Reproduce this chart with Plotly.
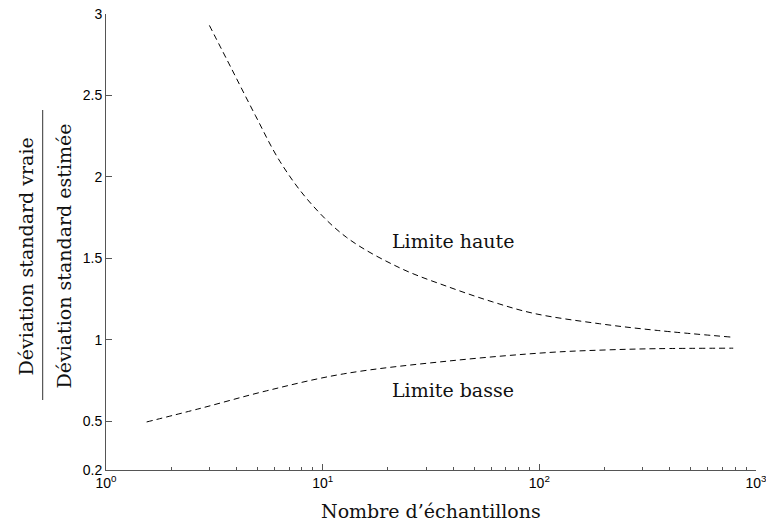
import plotly.graph_objects as go

# Upper limit (Limite haute)
upper_n = [3.0, 3.8, 4.9, 6.35, 8.7, 12.9, 22.7, 38.7, 61, 94, 190, 350, 770]
upper_v = [2.93, 2.663, 2.375, 2.095, 1.846, 1.628, 1.441, 1.321, 1.232, 1.162, 1.098, 1.057, 1.016]

# Lower limit (Limite basse)
lower_n = [1.54, 2.72, 5.5, 12.45, 38.7, 112, 201, 348, 785]
lower_v = [0.495, 0.578, 0.686, 0.790, 0.870, 0.922, 0.937, 0.945, 0.948]

y_ticks = [0.2, 0.5, 1, 1.5, 2, 2.5, 3]
y_ticklabels = ["0.2", "0.5", "1", "1.5", "2", "2.5", "3"]
x_ticks = [1, 10, 100, 1000]
x_ticklabels = ["10<sup>0</sup>", "10<sup>1</sup>", "10<sup>2</sup>", "10<sup>3</sup>"]
x_minor = [m * d for d in [1, 10, 100] for m in range(2, 10)]

W, H = 766, 527
L, R, T, B = 106, 10, 14, 57
PW, PH = W - L - R, H - T - B


def px_x(px):
    return (px - L) / PW


def px_y(py):
    return (H - B - py) / PH


line_style = dict(color="black", width=1, dash="6px,4px")

fig = go.Figure()
fig.add_trace(go.Scatter(x=upper_n, y=upper_v, mode="lines", line=line_style,
                         line_shape="spline", showlegend=False))
fig.add_trace(go.Scatter(x=lower_n, y=lower_v, mode="lines", line=line_style,
                         line_shape="spline", showlegend=False))

serif = "DejaVu Serif"
ytickfont = dict(family="Liberation Sans, Arial", size=14, color="black")
xtickfont = dict(family="Liberation Sans, Arial", size=14, color="black")
axcol = "#555555"

fig.update_layout(
    width=W, height=H,
    margin=dict(l=L, r=R, t=T, b=B, pad=0, autoexpand=False),
    plot_bgcolor="white", paper_bgcolor="white",
    xaxis=dict(type="log", range=[0, 3], showgrid=False, zeroline=False,
               showline=True, linecolor=axcol, linewidth=1, mirror=False,
               automargin=False, ticklabeloverflow="allow",
               ticks="inside", ticklen=6, tickcolor=axcol,
               tickvals=x_ticks, ticktext=x_ticklabels, tickfont=xtickfont,
               minor=dict(tickvals=x_minor, ticks="inside", ticklen=3,
                          tickcolor=axcol, showgrid=False)),
    yaxis=dict(range=[0.2, 3], showgrid=False, zeroline=False,
               showline=True, linecolor=axcol, linewidth=1, mirror=False,
               automargin=False, ticklabeloverflow="allow",
               ticks="inside", ticklen=6, tickcolor=axcol,
               tickvals=y_ticks, ticktext=y_ticklabels, tickfont=ytickfont),
)

ann_font = dict(family=serif, size=19, color="#111111")
fig.add_annotation(x=1.6, y=1.604, xref="x", yref="y", text="Limite haute",
                   showarrow=False, font=ann_font, xanchor="center", yanchor="middle")
fig.add_annotation(x=1.6, y=0.689, xref="x", yref="y", text="Limite basse",
                   showarrow=False, font=ann_font, xanchor="center", yanchor="middle")

# x axis title
fig.add_annotation(x=px_x(431), y=px_y(511), xref="paper", yref="paper",
                   text="Nombre d’échantillons", showarrow=False, font=ann_font,
                   xanchor="center", yanchor="middle")

# y axis title as a fraction
fig.add_annotation(x=px_x(25), y=px_y(256.5), xref="paper", yref="paper",
                   text="Déviation standard vraie", showarrow=False, font=ann_font,
                   textangle=-90, xanchor="center", yanchor="middle")
fig.add_annotation(x=px_x(63), y=px_y(256.5), xref="paper", yref="paper",
                   text="Déviation standard estimée", showarrow=False, font=ann_font,
                   textangle=-90, xanchor="center", yanchor="middle")
fig.add_shape(type="line", xref="paper", yref="paper",
              x0=px_x(42.7), x1=px_x(42.7), y0=px_y(110), y1=px_y(400),
              line=dict(color="#333333", width=1))

fig.write_html("out.html", config={"displayModeBar": False},
               post_script="document.body.style.margin='0';document.body.style.overflow='hidden';")
